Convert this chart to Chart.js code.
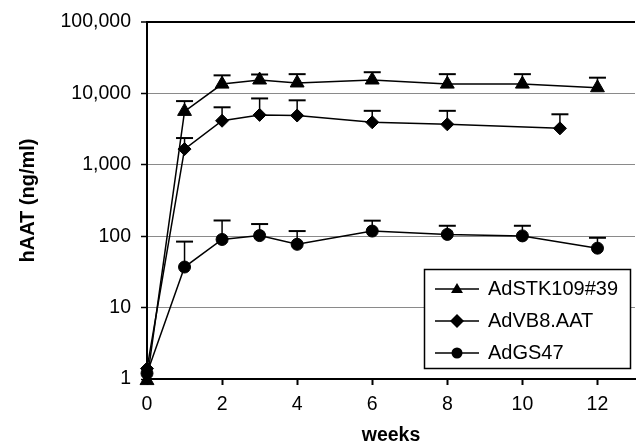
<!DOCTYPE html>
<html><head><meta charset="utf-8">
<script src="https://cdn.jsdelivr.net/npm/chart.js@4"></script>
<style>html,body{margin:0;padding:0;background:#fff;} canvas{display:block;}</style>
</head><body>
<canvas id="c" width="644" height="445"></canvas>
<script>
// ---- data ----
const seriesNames = ['AdSTK109#39', 'AdVB8.AAT', 'AdGS47'];
const weeksSTK  = [0, 1, 2, 3, 4, 6, 8, 10, 12];
const valuesSTK = [0.95, 5600, 13500, 15400, 14000, 15400, 13500, 13500, 12000];
const upperSTK  = [null, 7800, 17900, 18400, 18600, 19800, 18600, 18600, 16600];
const weeksVB8  = [0, 1, 2, 3, 4, 6, 8, 11];
const valuesVB8 = [1.4, 1660, 4140, 5000, 4900, 3940, 3690, 3240];
const upperVB8  = [null, 2370, 6390, 8500, 8000, 5700, 5700, 5100];
const weeksGS   = [0, 1, 2, 3, 4, 6, 8, 10, 12];
const valuesGS  = [1.2, 37, 90, 102, 77, 118, 106, 101, 68];
const upperGS   = [null, 84, 166, 148, 118, 165, 140, 140, 95];
const xTickValues = [0, 2, 4, 6, 8, 10, 12];
const yTickValues = [1, 10, 100, 1000, 10000, 100000];
const xTitle = 'weeks';
const yTitle = 'hAAT (ng/ml)';

const FONT = '"Liberation Sans", Arial, Helvetica, sans-serif';
const uppers = [upperSTK, upperVB8, upperGS];

function pts(xs, ys) { return xs.map((x, i) => ({x: x, y: ys[i]})); }

function makeIcon(shape) {
  const c = document.createElement('canvas');
  c.width = 44; c.height = 20;
  const g = c.getContext('2d');
  g.strokeStyle = '#000'; g.fillStyle = '#000'; g.lineWidth = 1.5;
  g.beginPath(); g.moveTo(0, 10); g.lineTo(44, 10); g.stroke();
  g.beginPath();
  if (shape === 'triangle') { g.moveTo(22, 4); g.lineTo(28, 14); g.lineTo(16, 14); g.closePath(); }
  else if (shape === 'diamond') { g.moveTo(22, 3); g.lineTo(29, 10); g.lineTo(22, 17); g.lineTo(15, 10); g.closePath(); }
  else { g.arc(22, 10, 5.5, 0, Math.PI * 2); }
  g.fill();
  return c;
}
const icons = [makeIcon('triangle'), makeIcon('diamond'), makeIcon('circle')];

const errorBars = {
  id: 'errorBars',
  beforeDatasetsDraw(chart) {
    const ctx = chart.ctx, ys = chart.scales.y;
    ctx.save();
    ctx.strokeStyle = '#000';
    chart.data.datasets.forEach((ds, i) => {
      const meta = chart.getDatasetMeta(i);
      const up = uppers[i];
      meta.data.forEach((p, j) => {
        if (up[j] == null) return;
        const yt = ys.getPixelForValue(up[j]);
        ctx.lineWidth = 1.5;
        ctx.beginPath(); ctx.moveTo(p.x, p.y); ctx.lineTo(p.x, yt); ctx.stroke();
        ctx.lineWidth = 2;
        ctx.beginPath(); ctx.moveTo(p.x - 8.5, yt); ctx.lineTo(p.x + 8.5, yt); ctx.stroke();
      });
    });
    ctx.restore();
  }
};

const LEG = {left: 424, top: 267, width: 207, boxTop: 269, boxHeight: 100};
const legendBox = {
  id: 'legendBox',
  afterLayout(chart) {
    const L = chart.legend;
    if (!L) return;
    L.left = LEG.left; L.top = LEG.top; L.width = LEG.width; L.height = 130;
    L.right = L.left + L.width; L.bottom = L.top + L.height;
    if (!L._patched) {
      const orig = L.draw.bind(L);
      L.draw = function () {
        const ctx = chart.ctx;
        ctx.save();
        ctx.fillStyle = '#fff';
        ctx.fillRect(LEG.left, LEG.boxTop, LEG.width, LEG.boxHeight);
        ctx.strokeStyle = '#000'; ctx.lineWidth = 1.5;
        ctx.strokeRect(LEG.left + 0.5, LEG.boxTop + 0.5, LEG.width - 1, LEG.boxHeight - 1);
        ctx.restore();
        orig();
      };
      L._patched = true;
    }
  }
};

const common = {borderColor: '#000', backgroundColor: '#000', pointBackgroundColor: '#000',
  pointBorderColor: '#000', borderWidth: 1.5, pointBorderWidth: 1, tension: 0, clip: false, fill: false};

new Chart(document.getElementById('c'), {
  type: 'line',
  data: {
    datasets: [
      Object.assign({label: seriesNames[0], data: pts(weeksSTK, valuesSTK), pointStyle: 'triangle', pointRadius: 8}, common),
      Object.assign({label: seriesNames[1], data: pts(weeksVB8, valuesVB8), pointStyle: 'rectRot', pointRadius: 6.5}, common),
      Object.assign({label: seriesNames[2], data: pts(weeksGS, valuesGS), pointStyle: 'circle', pointRadius: 6}, common)
    ]
  },
  options: {
    responsive: false,
    animation: false,
    devicePixelRatio: 1,
    layout: {padding: {top: 22, left: 0, right: 0, bottom: 0}},
    plugins: {
      tooltip: {enabled: false},
      legend: {
        display: true,
        position: 'chartArea',
        align: 'start',
        labels: {
          font: {size: 20, family: FONT},
          color: '#000',
          usePointStyle: true,
          pointStyleWidth: 42,
          boxHeight: 20,
          padding: 12,
          generateLabels: (chart) => chart.data.datasets.map((ds, i) => ({
            text: ds.label, pointStyle: icons[i], fillStyle: '#000', strokeStyle: '#000',
            lineWidth: 0, hidden: false, datasetIndex: i, fontColor: '#000'
          }))
        }
      }
    },
    scales: {
      x: {
        type: 'linear', min: 0, max: 13,
        afterBuildTicks: (s) => { s.ticks = xTickValues.map(v => ({value: v})); },
        afterFit: (s) => { s.height = 66; },
        grid: {display: true, drawOnChartArea: false, drawTicks: true, tickLength: 6, tickColor: '#000', tickWidth: 2},
        border: {display: true, color: '#000', width: 2},
        ticks: {autoSkip: false, maxRotation: 0, padding: 8, color: '#000', font: {size: 19.5, family: FONT}},
        title: {display: true, text: xTitle, color: '#000', font: {size: 19.5, weight: 'bold', family: FONT, lineHeight: 1}, padding: {top: 0, bottom: 0}}
      },
      y: {
        type: 'logarithmic', min: 1, max: 100000,
        afterBuildTicks: (s) => { s.ticks = yTickValues.map(v => ({value: v})); },
        afterFit: (s) => { s.width = 147; },
        grid: {
          display: true, drawOnChartArea: true, drawTicks: true, tickLength: 6,
          color: (c) => (c.tick && c.tick.value === 100000) ? '#000' : '#8a8a8a',
          lineWidth: (c) => (c.tick && c.tick.value === 100000) ? 2 : 1,
          tickColor: '#000', tickWidth: 1.5
        },
        border: {display: true, color: '#000', width: 2},
        ticks: {autoSkip: false, padding: 10, color: '#000', font: {size: 19.5, family: FONT},
          callback: (v) => Number(v).toLocaleString('en-US')},
        title: {display: true, text: yTitle, color: '#000', font: {size: 20, weight: 'bold', family: FONT, lineHeight: 1}, padding: {top: 18, bottom: 0}}
      }
    }
  },
  plugins: [errorBars, legendBox]
});
</script>
</body></html>
